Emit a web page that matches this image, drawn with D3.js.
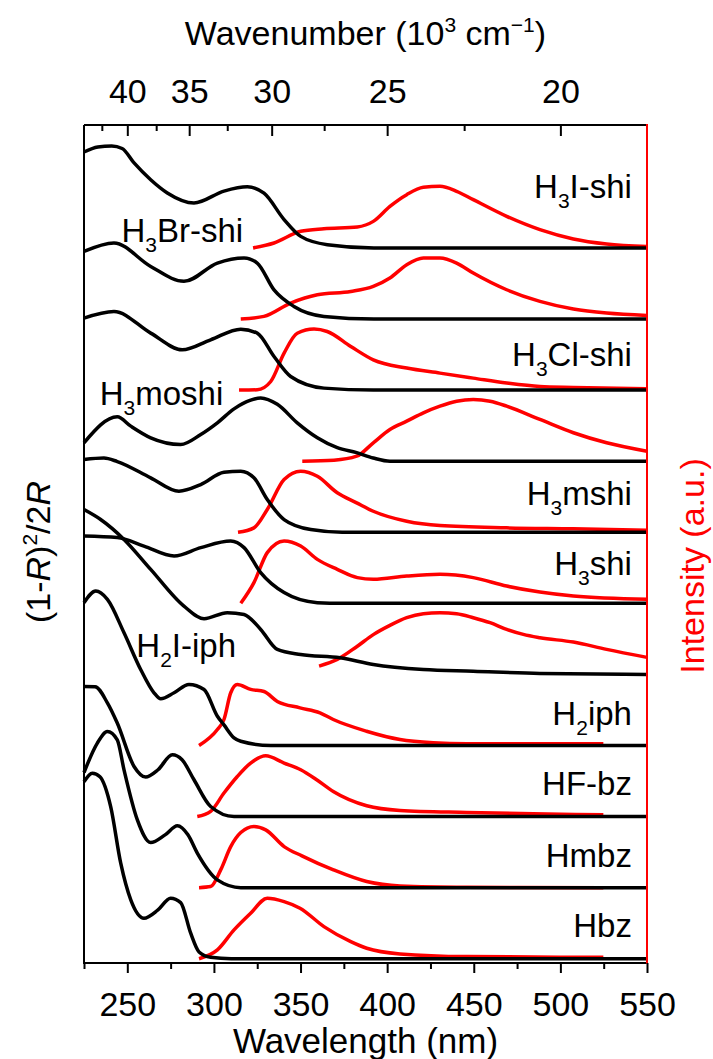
<!DOCTYPE html>
<html><head><meta charset="utf-8">
<script src="https://cdn.jsdelivr.net/npm/d3@7"></script>
<style>
body{margin:0;background:#fff}
svg{display:block}
text{font-family:"Liberation Sans",Arial,sans-serif;}
</style>
</head><body>
<svg id="c" width="713" height="1059"></svg>
<script>
// ---------- DATA (wavelength nm, relative value; stacked with offset = index) ----------
const sampleNames = ["Hbz","Hmbz","HF-bz","H2iph","H2I-iph","H3shi","H3mshi","H3moshi","H3Cl-shi","H3Br-shi","H3I-shi"];

// absorption (Kubelka-Munk) curves, black
const absHbz = [[225,2.49],[229.8,2.611],[234.2,2.56],[240.4,2.14],[246.2,1.344],[252,0.828],[259.6,0.57],[267.7,0.687],[275,0.852],[280.8,0.79],[286.6,0.359],[291.4,0.096],[298.1,0.02],[310,0],[550,0]];
const absHmbz = [[225,1.62],[232.7,2.034],[238.5,2.197],[244.2,2.08],[248.1,1.658],[255.8,0.954],[263.5,0.635],[271.8,0.743],[278.9,0.87],[285,0.743],[290.4,0.486],[302,0.11],[315.5,0],[550,0]];
const absHFbz = [[225,1.83],[231.4,1.827],[238.5,1.6],[244.2,1.316],[253.9,0.705],[260.6,0.556],[267.7,0.659],[276,0.87],[281.6,0.8],[288.5,0.518],[298.1,0.142],[311.6,0],[550,0]];
const absH2iph = [[225,2.008],[231.8,2.172],[238.5,2.055],[248.1,1.586],[257.7,1.07],[265.4,0.742],[269.3,0.657],[277,0.742],[285.6,0.859],[294.3,0.788],[302,0.412],[305.8,0.29],[311.6,0.108],[315.5,0.06],[332.8,0],[550,0]];
const absH2Iiph = [[225,2.32],[234.6,2.18],[248.1,1.9],[263.5,1.478],[282.7,0.961],[294.3,0.784],[307.7,0.869],[317.4,0.844],[327,0.633],[336.6,0.352],[350.1,0.281],[372.8,0.235],[392,0.141],[420.9,0.07],[449.7,0.046],[488.2,0.014],[550,0]];
const absH3shi = [[225,0.947],[244.2,0.925],[259.6,0.806],[277,0.666],[292.4,0.784],[309.7,0.877],[317.4,0.784],[327,0.432],[340.5,0.151],[359.7,0.01],[374,0],[550,0]];
const absH3mshi = [[225,1.023],[236.5,1.044],[244.2,0.995],[263.5,0.766],[279.8,0.577],[292.4,0.671],[305.8,0.844],[315.5,0.859],[323.1,0.766],[330.8,0.46],[340.5,0.179],[355.9,0.038],[374,0],[550,0]];
const absH3moshi = [[225,0.259],[244.2,0.625],[252,0.493],[263.5,0.329],[280.8,0.235],[292.4,0.376],[302,0.54],[311.6,0.736],[321.2,0.858],[327,0.89],[336.6,0.8],[348.1,0.54],[359.7,0.33],[371.2,0.19],[382.4,0.12],[392,0.045],[401.6,0],[550,0]];
const absH3Clshi = [[225,1.013],[242.3,1.106],[263.5,0.802],[281.7,0.567],[298.1,0.708],[315.5,0.858],[325,0.802],[334.7,0.473],[344.3,0.191],[363.5,0.028],[392,0],[550,0]];
const absH3Brshi = [[225,0.951],[242.3,1.07],[263.5,0.74],[282.7,0.53],[302,0.788],[317.4,0.859],[325,0.788],[334.7,0.41],[346.2,0.177],[363.5,0.037],[392.4,0],[550,0]];
const absH3Ishi = [[225,1.35],[233,1.42],[241,1.435],[247,1.4],[253.9,1.196],[263.5,0.96],[273.1,0.774],[288.5,0.633],[305.8,0.8],[319.3,0.86],[328.9,0.77],[340.5,0.4],[350.1,0.163],[365.5,0.046],[392.4,0],[550,0]];

// emission curves, red
const emHbz = [[291.4,0],[302,0.124],[311.6,0.405],[321.2,0.64],[330.8,0.852],[340.5,0.804],[349.7,0.711],[363.5,0.452],[379,0.241],[388.2,0.148],[407.4,0.068],[445.9,0.03],[524.8,0.021]];
const emHmbz = [[291.4,0],[298.1,0.015],[303.9,0.25],[309.7,0.578],[315.5,0.775],[323.1,0.86],[329.9,0.813],[340.5,0.578],[350.8,0.448],[369,0.25],[388.2,0.086],[407.4,0.025],[445.9,0.007],[524.8,0]];
const emHFbz = [[290.4,0],[298.1,0.072],[305.8,0.331],[313.5,0.564],[321.2,0.753],[329.9,0.856],[340.5,0.753],[350.1,0.659],[359.3,0.518],[368.9,0.353],[388.2,0.152],[407.4,0.086],[445.9,0.058],[484.4,0.039],[524.8,0.025]];
const emH2iph = [[291.4,0],[302,0.225],[305.8,0.366],[309.7,0.742],[313.5,0.859],[321.2,0.79],[328.9,0.76],[336.6,0.62],[349.7,0.53],[361.2,0.46],[368.9,0.366],[388.1,0.201],[407.4,0.084],[426.6,0.038],[445.9,0.024],[524.8,0.024]];
const emH2Iiph = [[360.7,0.117],[371.2,0.211],[382.4,0.39],[392,0.56],[401.6,0.69],[411.3,0.798],[420.9,0.854],[430.5,0.868],[440.1,0.854],[449.7,0.798],[459.4,0.728],[469,0.633],[478.6,0.563],[488.2,0.517],[507.5,0.455],[526.7,0.352],[550,0.24]];
const emH3shi = [[315.5,0],[323.1,0.291],[330.8,0.714],[340.5,0.877],[350.1,0.806],[359.7,0.619],[371.2,0.479],[382.8,0.362],[392,0.338],[411.3,0.384],[430.5,0.408],[449.7,0.362],[469,0.243],[488.2,0.159],[507.5,0.103],[550,0.056]];
const emH3mshi = [[313.9,0],[323.1,0.062],[330.8,0.32],[340.5,0.742],[350.1,0.859],[359.7,0.788],[371.2,0.555],[382.4,0.414],[392,0.296],[411.3,0.155],[430.5,0.094],[469,0.062],[507.5,0.048],[550,0.028]];
const emH3moshi = [[351,0],[369.3,0.014],[382.4,0.07],[392,0.259],[401.6,0.446],[411.3,0.563],[420.9,0.681],[430.5,0.774],[440.1,0.844],[449.7,0.868],[459.4,0.844],[469,0.774],[488.2,0.587],[507.5,0.4],[526.7,0.259],[550,0.14]];
const emH3Clshi = [[314.5,0],[325,0.004],[332.8,0.121],[340.5,0.52],[348.1,0.8],[357.8,0.859],[365.4,0.825],[379,0.614],[392,0.426],[411.3,0.31],[430.5,0.239],[449.7,0.169],[469,0.099],[488.2,0.05],[507.5,0.037],[550,0.018]];
const emH3Brshi = [[315.5,0],[328.9,0.037],[344.3,0.225],[359.7,0.342],[379,0.388],[392,0.459],[401.6,0.577],[411.3,0.764],[420.9,0.858],[430.5,0.858],[440.1,0.788],[449.7,0.647],[469,0.412],[488.2,0.248],[507.5,0.141],[526.7,0.084],[550,0.05]];
const emH3Ishi = [[322.6,0],[334.7,0.07],[350.1,0.234],[363.5,0.27],[382.8,0.296],[392,0.374],[401.6,0.585],[411.3,0.75],[420.9,0.853],[430.5,0.867],[440.1,0.797],[449.7,0.68],[469,0.445],[488.2,0.258],[507.5,0.127],[526.7,0.056],[550,0.02]];

const absCurves = [absHbz,absHmbz,absHFbz,absH2iph,absH2Iiph,absH3shi,absH3mshi,absH3moshi,absH3Clshi,absH3Brshi,absH3Ishi];
const emCurves  = [emHbz,emHmbz,emHFbz,emH2iph,emH2Iiph,emH3shi,emH3mshi,emH3moshi,emH3Clshi,emH3Brshi,emH3Ishi];

const wavelengthTicks = [250,300,350,400,450,500,550];
const wavelengthMinor = [225,275,325,375,425,475,525];
const wavenumberTicks = [40,35,30,25,20];
const wavenumberMinor = [42.5,37.5,32.5,27.5,22.5];

// label layout: [wavelength, stacked value, anchor]
const labelLayout = [
  [541.3,0.31,"end"],[541.3,1.295,"end"],[541.3,2.304,"end"],[541.3,3.288,"end"],
  [255.2,4.249,"start"],[541.3,5.399,"end"],[541.3,6.383,"end"],[234.1,7.79,"start"],
  [541.3,8.339,"end"],[246.6,10.088,"start"],[541.3,10.698,"end"]
];

// ---------- DRAW ----------
const svg = d3.select("#c");
const L=84, R=647, T=125, B=963;
const x = d3.scaleLinear().domain([225,550]).range([L,R]);
const y = d3.scaleLinear().domain([-0.06,11.73]).range([B,T]);
const FS = 34;

const plot = svg.append("g");
const line = (off) => d3.line().x(d=>x(d[0])).y(d=>y(d[1]+off)).curve(d3.curveMonotoneX);

emCurves.forEach((c,i)=>{
  plot.append("path").attr("d",line(i)(c)).attr("fill","none")
    .attr("stroke","#ff0000").attr("stroke-width",3.5).attr("stroke-linejoin","round");
});
absCurves.forEach((c,i)=>{
  plot.append("path").attr("d",line(i)(c)).attr("fill","none")
    .attr("stroke","#000").attr("stroke-width",3.5).attr("stroke-linejoin","round");
});

// labels
sampleNames.forEach((n,i)=>{
  const [wl,v,anc] = labelLayout[i];
  const t = svg.append("text").attr("x",x(wl)).attr("y",y(v))
    .attr("text-anchor",anc).attr("font-size",33).attr("fill","#000");
  const m = n.match(/^H(\d)(.*)$/);
  if(m){
    t.append("tspan").text("H");
    t.append("tspan").text(m[1]).attr("font-size",21).attr("dy",10);
    t.append("tspan").text(m[2]).attr("dy",-10);
  } else t.text(n);
});

// frame
svg.append("line").attr("x1",L).attr("x2",L).attr("y1",T).attr("y2",B).attr("stroke","#000").attr("stroke-width",2);
svg.append("line").attr("x1",L).attr("x2",R).attr("y1",T).attr("y2",T).attr("stroke","#000").attr("stroke-width",2);
svg.append("line").attr("x1",L-1).attr("x2",R).attr("y1",B).attr("y2",B).attr("stroke","#000").attr("stroke-width",2);
svg.append("line").attr("x1",R).attr("x2",R).attr("y1",T-1).attr("y2",B+1).attr("stroke","#ff0000").attr("stroke-width",2);

// bottom axis
const gb = svg.append("g").attr("transform",`translate(0,${B})`)
  .call(d3.axisBottom(x).tickValues(wavelengthTicks).tickSize(10).tickSizeOuter(0).tickPadding(19));
const gbm = svg.append("g").attr("transform",`translate(0,${B})`)
  .call(d3.axisBottom(x).tickValues(wavelengthMinor).tickSize(6).tickSizeOuter(0).tickFormat(""));
// top axis (wavenumber, 10^3 cm^-1 -> nm = 1e4/k)
const gt = svg.append("g").attr("transform",`translate(0,${T})`)
  .call(d3.axisTop(x).tickValues(wavenumberTicks.map(k=>1e4/k)).tickSize(-11).tickSizeOuter(0).tickPadding(22)
    .tickFormat(d=>d3.format("d")(Math.round(1e4/d))));
const gtm = svg.append("g").attr("transform",`translate(0,${T})`)
  .call(d3.axisTop(x).tickValues(wavenumberMinor.map(k=>1e4/k)).tickSize(-6).tickSizeOuter(0).tickFormat(""));
[gb,gbm,gt,gtm].forEach(g=>{
  g.select(".domain").remove();
  g.selectAll(".tick line").attr("stroke","#000").attr("stroke-width",2);
  g.selectAll("text").attr("font-size",FS).attr("fill","#000").attr("font-family","Liberation Sans, Arial, sans-serif");
});

// axis titles
svg.append("text").attr("x",(L+R)/2).attr("y",1053).attr("text-anchor","middle")
  .attr("font-size",35).text("Wavelength (nm)");
const tt = svg.append("text").attr("x",(L+R)/2).attr("y",45).attr("text-anchor","middle").attr("font-size",FS);
tt.append("tspan").text("Wavenumber (10");
tt.append("tspan").text("3").attr("font-size",21).attr("dy",-13);
tt.append("tspan").text(" cm").attr("dy",13);
tt.append("tspan").text("\u22121").attr("font-size",21).attr("dy",-13);
tt.append("tspan").text(")").attr("dy",13);

const ly = svg.append("text").attr("transform","translate(50,552) rotate(-90)")
  .attr("text-anchor","middle").attr("font-size",FS);
ly.append("tspan").text("(1-");
ly.append("tspan").text("R").attr("font-style","italic");
ly.append("tspan").text(")");
ly.append("tspan").text("2").attr("font-size",21).attr("dy",-13);
ly.append("tspan").text("/2").attr("dy",13);
ly.append("tspan").text("R").attr("font-style","italic");

svg.append("text").attr("transform","translate(704,566) rotate(-90)")
  .attr("text-anchor","middle").attr("font-size",FS).attr("fill","#ff0000").text("Intensity (a.u.)");
</script>
</body></html>
